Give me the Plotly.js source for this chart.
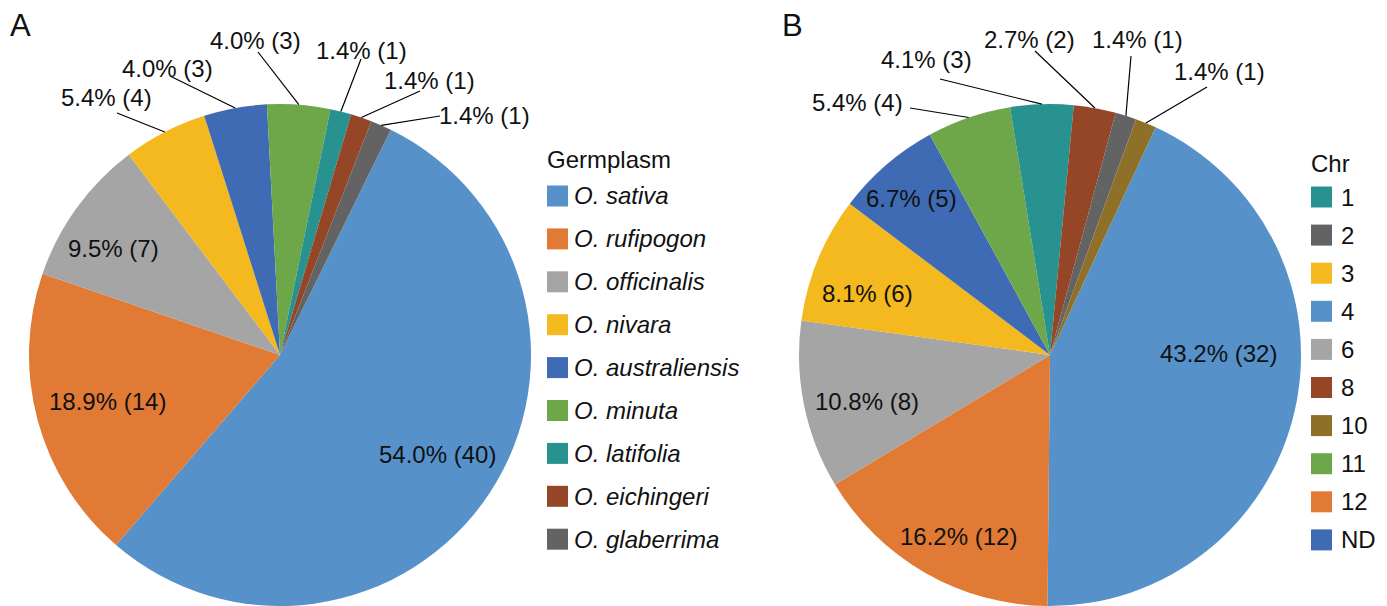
<!DOCTYPE html>
<html>
<head>
<meta charset="utf-8">
<script src="https://cdn.plot.ly/plotly-3.0.1.min.js"></script>
<style>
  html, body { margin: 0; padding: 0; background: #ffffff; overflow: hidden; }
  #chart { width: 1387px; height: 606px; }
</style>
</head>
<body>
<div id="chart"></div>
<script>
// ---------------- DATA ----------------
const germplasm = ['O. sativa', 'O. rufipogon', 'O. officinalis', 'O. nivara', 'O. australiensis',
                   'O. minuta', 'O. latifolia', 'O. eichingeri', 'O. glaberrima'];
const germCounts = [40, 14, 7, 4, 3, 3, 1, 1, 1];
const germPct = ['54.0%', '18.9%', '9.5%', '5.4%', '4.0%', '4.0%', '1.4%', '1.4%', '1.4%'];

const chrSlices = ['4', '12', '6', '3', 'ND', '11', '1', '8', '2', '10'];
const chrCounts = [32, 12, 8, 6, 5, 4, 3, 2, 1, 1];
const chrPct = ['43.2%', '16.2%', '10.8%', '8.1%', '6.7%', '5.4%', '4.1%', '2.7%', '1.4%', '1.4%'];
const chrLegendOrder = ['1', '2', '3', '4', '6', '8', '10', '11', '12', 'ND'];

// ---------------- STYLE / LAYOUT ----------------
const W = 1387, H = 606;
const FONT = 'Liberation Sans, Arial, sans-serif';
const TXT = '#111111';
const colorA = ['#5692C9', '#E07A35', '#A5A5A5', '#F3B91E', '#3E6BB3', '#6EA74A', '#27928F', '#944626', '#636363'];
const chrColor = { '1': '#27928F', '2': '#636363', '3': '#F3B91E', '4': '#5692C9', '6': '#A5A5A5',
                   '8': '#944626', '10': '#8F7028', '11': '#6EA74A', '12': '#E07A35', 'ND': '#3E6BB3' };
const colorB = chrSlices.map(c => chrColor[c]);

const pieA = { cx: 280, cy: 355, r: 251, rot: 26.2 };
const pieB = { cx: 1050, cy: 355, r: 251, rot: 24.9 };

// label centres (pixels) - placement of the data labels
const labelPosA = [[437, 454], [107, 401], [113, 249], [106, 98], [167, 68], [255, 40], [361, 50], [429, 80], [484, 116]];
const labelPosB = [[1218, 353], [958, 536], [867, 401], [867, 293], [911, 198], [857, 102], [926, 59], [1029, 39], [1137, 39], [1219, 71]];
// where each leader line leaves its label (pixels); null = label inside its slice
const leaderStartA = [null, null, null, [117, 113], [170, 76], [258, 52], [361, 59], [420, 91], [440, 116]];
const leaderStartB = [null, null, null, null, null, [910, 108], [940, 79], [1035, 51], [1131, 56], [1207, 87]];

const px = p => p / W;
const py = p => 1 - p / H;

function pieTrace(labels, values, colors, p) {
  return {
    type: 'pie',
    labels: labels,
    values: values,
    sort: false,
    direction: 'clockwise',
    rotation: p.rot,
    textinfo: 'none',
    hoverinfo: 'label+value+percent',
    showlegend: false,
    marker: { colors: colors, line: { width: 0 } },
    domain: { x: [px(p.cx - p.r), px(p.cx + p.r)], y: [py(p.cy + p.r), py(p.cy - p.r)] }
  };
}

function dataLabels(values, pct, p, pos, starts) {
  const total = values.reduce((a, b) => a + b, 0);
  let cum = 0;
  const anns = [], lines = [];
  values.forEach((v, i) => {
    const mid = (p.rot + 360 * (cum + v / 2) / total) * Math.PI / 180;
    cum += v;
    const [lx, ly] = pos[i];
    anns.push({
      xref: 'paper', yref: 'paper', x: px(lx), y: py(ly),
      xanchor: 'center', yanchor: 'middle', showarrow: false,
      text: pct[i] + ' (' + v + ')', font: { family: FONT, size: 24, color: TXT }
    });
    if (starts[i]) {
      const tx = p.cx + p.r * Math.sin(mid);
      const ty = p.cy - p.r * Math.cos(mid);
      lines.push({
        type: 'line', xref: 'paper', yref: 'paper',
        x0: px(starts[i][0]), y0: py(starts[i][1]), x1: px(tx), y1: py(ty),
        line: { color: '#000000', width: 1.2 }
      });
    }
  });
  return { anns, lines };
}

function legend(title, names, colors, x0, titleY, y0, step, textX, italic) {
  const shapes = [], anns = [];
  anns.push({ xref: 'paper', yref: 'paper', x: px(x0 - 2), y: py(titleY), xanchor: 'left', yanchor: 'middle',
              showarrow: false, text: title, font: { family: FONT, size: 24, color: TXT } });
  names.forEach((n, i) => {
    const yc = y0 + i * step;
    shapes.push({ type: 'rect', xref: 'paper', yref: 'paper',
                  x0: px(x0), x1: px(x0 + 21), y0: py(yc - 10.5), y1: py(yc + 10.5),
                  fillcolor: colors[i], line: { width: 0 } });
    anns.push({ xref: 'paper', yref: 'paper', x: px(textX), y: py(yc), xanchor: 'left', yanchor: 'middle',
                showarrow: false, text: italic ? '<i>' + n + '</i>' : n,
                font: { family: FONT, size: 24, color: TXT } });
  });
  return { shapes, anns };
}

const labA = dataLabels(germCounts, germPct, pieA, labelPosA, leaderStartA);
const labB = dataLabels(chrCounts, chrPct, pieB, labelPosB, leaderStartB);
const legA = legend('Germplasm', germplasm, colorA, 547, 160, 196, 42.9, 572, true);
const legB = legend('Chr', chrLegendOrder, chrLegendOrder.map(c => chrColor[c]), 1311, 164, 197, 38.1, 1339, false);

const panelLabels = [
  { xref: 'paper', yref: 'paper', x: px(8), y: py(26), xanchor: 'left', yanchor: 'middle', showarrow: false,
    text: 'A', font: { family: FONT, size: 31, color: TXT } },
  { xref: 'paper', yref: 'paper', x: px(780), y: py(26), xanchor: 'left', yanchor: 'middle', showarrow: false,
    text: 'B', font: { family: FONT, size: 31, color: TXT } }
];

const data = [
  pieTrace(germplasm, germCounts, colorA, pieA),
  pieTrace(chrSlices, chrCounts, colorB, pieB)
];

const layout = {
  width: W, height: H,
  margin: { l: 0, r: 0, t: 0, b: 0 },
  paper_bgcolor: '#ffffff',
  showlegend: false,
  font: { family: FONT, color: TXT },
  shapes: [...labA.lines, ...labB.lines, ...legA.shapes, ...legB.shapes],
  annotations: [...labA.anns, ...labB.anns, ...legA.anns, ...legB.anns, ...panelLabels]
};

Plotly.newPlot('chart', data, layout, { displayModeBar: false, staticPlot: true });
</script>
</body>
</html>
